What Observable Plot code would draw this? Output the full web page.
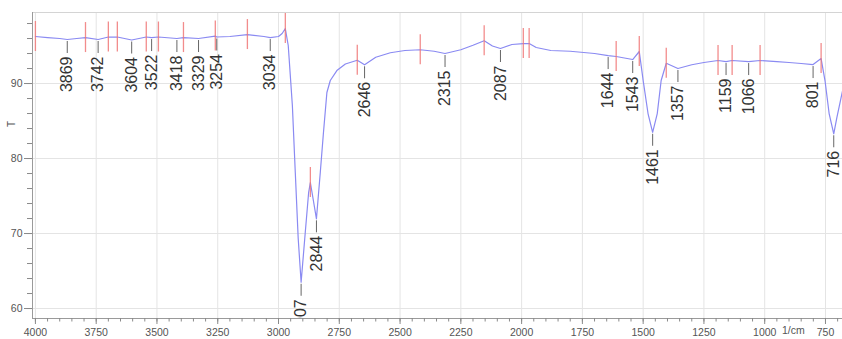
<!DOCTYPE html>
<html><head><meta charset="utf-8">
<script src="https://cdn.jsdelivr.net/npm/d3@7"></script>
<script src="https://cdn.jsdelivr.net/npm/@observablehq/plot@0.6"></script>
<style>html,body{margin:0;padding:0;background:#fff;} svg{display:block}</style>
</head><body><div id="chart"></div>
<script>
// Spectrum (wavenumber 1/cm, transmittance T %)
const wavenumber = [4000,3950,3900,3869,3830,3794,3742,3700,3663,3604,3544,3522,3494,3418,3391,3329,3260,3254,3200,3128,3060,3034,3000,2985,2972,2960,2943,2931,2919,2907,2890,2876,2869,2844,2828,2815,2801,2787,2760,2725,2676,2646,2600,2540,2480,2417,2360,2315,2250,2200,2154,2120,2087,2040,1993,1969,1940,1880,1800,1700,1644,1611,1560,1543,1516,1500,1480,1461,1442,1426,1405,1357,1300,1250,1192,1159,1134,1066,1019,950,900,850,801,768,752,735,716,703,686,680];
const transmittance = [96.27,96.13,96.0,95.87,96.0,96.13,95.87,96.2,96.2,95.8,96.2,96.13,96.2,96.0,96.13,96.0,96.33,96.2,96.27,96.53,96.27,96.13,96.27,96.67,97.33,95.07,87.07,78.13,69.33,63.5,70.13,75.5,76.8,71.96,78.2,83.5,88.8,90.4,91.73,92.6,93.1,92.5,93.5,94.1,94.4,94.5,94.3,94.0,94.5,95.1,95.7,95.0,94.67,95.2,95.33,95.33,94.8,94.4,94.3,94.0,93.73,93.6,93.3,93.2,94.27,90.4,86.0,83.5,86.0,90.4,92.7,92.0,92.5,92.8,93.07,92.93,93.07,92.93,93.07,92.93,92.8,92.67,92.53,93.33,90.4,86.0,83.3,85.5,88.1,89.0];

// Labelled minima
const labelWn = [3869,3742,3604,3522,3418,3329,3254,3034,2907,2844,2646,2315,2087,1644,1543,1461,1357,1159,1066,801,716];
const labelT  = [95.87,95.87,95.8,96.13,96.0,96.0,96.2,96.13,63.5,71.96,92.5,94.0,94.67,93.73,93.2,83.5,92.0,92.93,92.93,92.53,83.3];

// Peak markers (red)
const markerWn = [4000,3794,3700,3663,3544,3494,3391,3260,3128,2972,2869,2676,2417,2154,1993,1969,1611,1516,1405,1192,1134,1019,768];
const markerT  = [96.27,96.13,96.2,96.2,96.2,96.2,96.13,96.33,96.53,97.33,76.8,93.1,94.5,95.7,95.33,95.33,93.6,94.27,92.7,93.07,93.07,93.07,93.33];

// Axis ticks
const xMajor = [4000,3750,3500,3250,3000,2750,2500,2250,2000,1750,1500,1250,1000,750];
const xMinor = d3.range(700, 4001, 50);
const yMajor = [60,70,80,90];
const yMinor = d3.range(60, 99, 2);
const xUnit = "1/cm";
const yTitle = "T";

const spectrum = wavenumber.map((x, i) => ({x, y: transmittance[i]}));
const labels = labelWn.map((w, i) => ({w, t: labelT[i]}));
const markers = markerWn.map((w, i) => ({w, t: markerT[i]}));

const chart = Plot.plot({
  width: 842, height: 339,
  marginLeft: 32, marginRight: 0, marginTop: 12, marginBottom: 21,
  x: {domain: [4012, 680]},
  y: {domain: [58.67, 99.47]},
  style: {fontFamily: "'Liberation Sans', Arial, sans-serif", background: "#fff"},
  marks: [
    Plot.gridX(xMajor, {stroke: "#e4e4e4", strokeOpacity: 1}),
    Plot.gridY(yMajor, {stroke: "#e4e4e4", strokeOpacity: 1}),
    Plot.frame({anchor: "top", stroke: "#d4d4d4"}),
    Plot.frame({anchor: "left", stroke: "#9a9a9a"}),
    Plot.frame({anchor: "bottom", stroke: "#9a9a9a"}),
    Plot.axisX(xMinor, {tickSize: 3.5, text: null, stroke: "#8a8a8a"}),
    Plot.axisX(xMajor, {tickSize: 6, tickPadding: 4, fontSize: 10.5, color: "#555", stroke: "#8a8a8a", tickFormat: d3.format("d"), label: null}),
    Plot.axisY(yMinor, {tickSize: 5, text: null, stroke: "#8a8a8a"}),
    Plot.axisY(yMajor, {tickSize: 8, tickPadding: 2, fontSize: 10.5, color: "#555", stroke: "#8a8a8a", label: null}),
    Plot.text([xUnit], {x: () => 882, text: d => d, frameAnchor: "bottom", dy: 15, fontSize: 10.5, fill: "#555"}),
    Plot.text([yTitle], {y: () => 84.2, text: d => d, frameAnchor: "left", dx: -21, rotate: -90, fontSize: 10, fill: "#555"}),
    Plot.line(spectrum, {x: "x", y: "y", stroke: "#8a8af2", strokeWidth: 1.2}),
    Plot.ruleX(markers, {x: "w", y1: d => d.t - 2, y2: d => d.t + 2, stroke: "#f07878", strokeWidth: 1.3, strokeOpacity: 0.85}),
    Plot.ruleX(labels, {x: "w", y1: "t", y2: d => d.t - 1.6, dy: 2, stroke: "#666", strokeWidth: 1}),
    Plot.text(labels, {x: "w", y: "t", text: d => String(d.w), rotate: -90, textAnchor: "end", lineAnchor: "middle", dy: 17, fontSize: 16, fill: "#333", clip: true})
  ]
});
document.getElementById("chart").appendChild(chart);
</script>
</body></html>
